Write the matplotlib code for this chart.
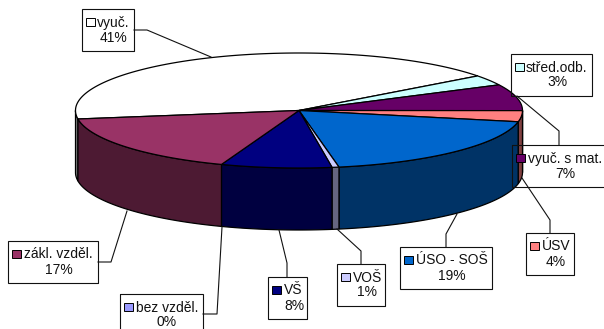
#!/usr/bin/env python3
"""3D-look pie of education shares, with Excel style callout labels."""
import numpy as np
import matplotlib
matplotlib.use("Agg")
import matplotlib.pyplot as plt
from matplotlib.patches import Polygon, Rectangle

names = ["vyuč.", "střed.odb.", "vyuč. s mat.", "ÚSV", "ÚSO - SOŠ", "VOŠ", "VŠ", "bez vzděl.", "zákl. vzděl."]
pct_labels = ["41%", "3%", "7%", "4%", "19%", "1%", "8%", "0%", "17%"]
# slice sizes
shares = [42.1, 2.9, 7.4, 3.1, 19.0, 0.5, 8.0, 0.0, 17.0]
top_colors = ["#FFFFFF", "#CCFFFF", "#660066", "#FF8080", "#0066CC", "#CCCCFF", "#000080", "#9999FF", "#993366"]
side_colors = ["#808080", "#668080", "#330033", "#804040", "#003366", "#666680", "#000040", "#4D4D80", "#4D1A33"]

# ---------- pie geometry, in picture pixels ----------
CX, CY, RX, RY, DEPTH = 299, 110.5, 223.5, 57.5, 62
START = 171.5

# box: left, top, right, bottom / text left / centre of the % line
boxes = [
    (82, 9, 134, 51, 97, 113.5),
    (511, 54, 592, 96, 526, 557),
    (512, 145, 608, 187, 527.5, 565),
    (526, 233, 574, 275, 542, 556),
    (400, 247, 492, 289, 416, 452),
    (337, 264, 385, 306, 352.5, 367),
    (268, 277, 307, 319, 284, 294),
    (120, 294, 203, 336, 136, 167),
    (8, 241, 98, 283, 24, 59),
]
leaders = [
    [(134, 30), (147, 30), (211, 57)],
    None,
    [(559, 145), (559, 131), (517, 96)],
    [(550, 233), (550, 220), (522, 178)],
    [(446, 247), (446, 234), (457, 214)],
    [(361, 264), (361, 251), (337, 229)],
    [(287, 277), (287, 263), (279, 230)],
    [(203, 314), (217, 314), (222, 227)],
    [(98, 262), (111, 262), (127, 211)],
]


def rim(t0, t1, dy=0.0):
    t = np.radians(np.linspace(t0, t1, max(int(abs(t1 - t0) * 2), 2)))
    return np.column_stack([CX + RX * np.cos(t), CY + dy + RY * np.sin(t)])


plt.rcParams["font.family"] = ["Liberation Sans", "DejaVu Sans"]
fig = plt.figure(figsize=(6.04, 3.29), dpi=100)
ax = fig.add_axes([0, 0, 1, 1])
ax.set_xlim(0, 604); ax.set_ylim(329, 0); ax.axis("off")

# ---------- slices ----------
edges = START + np.cumsum([0] + shares) / sum(shares) * 360
for k in range(len(names)):
    t0, t1 = edges[k], edges[k + 1]
    if t1 <= t0:
        continue
    # front wall: only the part of the rim in the lower half shows
    for off in (0, 360):
        a, b = max(t0, off), min(t1, off + 180)
        if b > a:
            up = rim(a, b)
            down = rim(b, a, DEPTH)
            ax.add_patch(Polygon(np.vstack([up, down]), closed=True, fc=side_colors[k],
                                 ec="black", lw=0.9, zorder=2))
    wedge = np.vstack([[(CX, CY)], rim(t0, t1)])
    ax.add_patch(Polygon(wedge, closed=True, fc=top_colors[k], ec="black", lw=0.9, zorder=3))

# ---------- callouts ----------
for k, (l, t, r, b, tx, pc) in enumerate(boxes):
    ax.add_patch(Rectangle((l + 1, t + 1), r - l, b - t, fc="#808080", ec="none", zorder=1))
    ax.add_patch(Rectangle((l, t), r - l, b - t, fc="white", ec="none", zorder=1.5))
    ax.add_patch(Rectangle((l, t), r - l, b - t, fc="none", ec="#111111", lw=0.8, zorder=4))
    ax.add_patch(Rectangle((l + 4, t + 8.5), 8.5, 8.5, fc=top_colors[k], ec="black", lw=0.7, zorder=5))
    ax.text(tx, t + 13.5, names[k], fontsize=10, color="#111111", ha="left", va="center", zorder=5)
    ax.text(pc, t + 28.5, pct_labels[k], fontsize=10, color="#111111", ha="center", va="center", zorder=5)
    if leaders[k]:
        xs, ys = zip(*leaders[k])
        ax.plot(xs, ys, color="#111111", lw=0.8, zorder=4)

fig.savefig("out.png", dpi=100, facecolor="white")
